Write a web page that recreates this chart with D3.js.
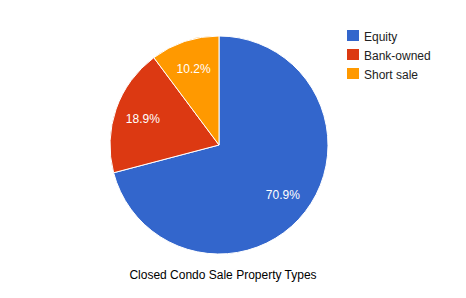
<!DOCTYPE html>
<html>
<head>
<meta charset="utf-8">
<script src="https://cdn.jsdelivr.net/npm/d3@7"></script>
<style>
  body { margin: 0; background: #fff; }
  svg { display: block; font-family: "Liberation Sans", Arial, sans-serif; }
</style>
</head>
<body>
<svg></svg>
<script>
(function (d3) {
    const width = 466;
    const height = 298;

    // data
    const categories = ["Equity", "Bank-owned", "Short sale"];
    const shares = [70.9, 18.9, 10.2];
    const colors = ["#3366cc", "#dc3912", "#ff9900"];
    const title = "Closed Condo Sale Property Types";

    const svg = d3.select('svg');
    svg.attr('width', width).attr('height', height);

    const cx = 219, cy = 145, r = 109;

    const color = d3.scaleOrdinal().domain(categories).range(colors);

    const pie = d3.pie().sort(null).value(d => d.value);
    const arcs = pie(categories.map((c, i) => ({ name: c, value: shares[i] })));

    const arc = d3.arc().innerRadius(0).outerRadius(r);
    const labelArc = d3.arc().innerRadius(r * 0.74).outerRadius(r * 0.74);

    const g = svg.append("g").attr("transform", `translate(${cx},${cy})`);

    g.selectAll("path")
        .data(arcs)
        .enter()
        .append("path")
        .attr("d", arc)
        .attr("fill", d => color(d.data.name))
        .attr("stroke", "#fff")
        .attr("stroke-width", 1);

    g.selectAll("text")
        .data(arcs)
        .enter()
        .append("text")
        .attr("transform", d => `translate(${labelArc.centroid(d)})`)
        .attr("text-anchor", "middle")
        .attr("dy", "0.36em")
        .attr("fill", "#fff")
        .attr("font-size", 12)
        .text(d => d.data.value.toFixed(1) + "%");

    // legend
    const legend = svg.append("g").attr("transform", "translate(347,30)");
    const row = legend.selectAll("g")
        .data(categories)
        .enter()
        .append("g")
        .attr("transform", (d, i) => `translate(0,${i * 19})`);

    row.append("rect")
        .attr("width", 12)
        .attr("height", 11)
        .attr("fill", d => color(d));

    row.append("text")
        .attr("x", 17)
        .attr("y", 10.5)
        .attr("font-size", 12)
        .attr("fill", "#222")
        .text(d => d);

    svg.append("text")
        .attr("x", 223)
        .attr("y", 279)
        .attr("text-anchor", "middle")
        .attr("font-size", 12)
        .attr("fill", "#000")
        .text(title);
})(d3);
</script>
</body>
</html>
